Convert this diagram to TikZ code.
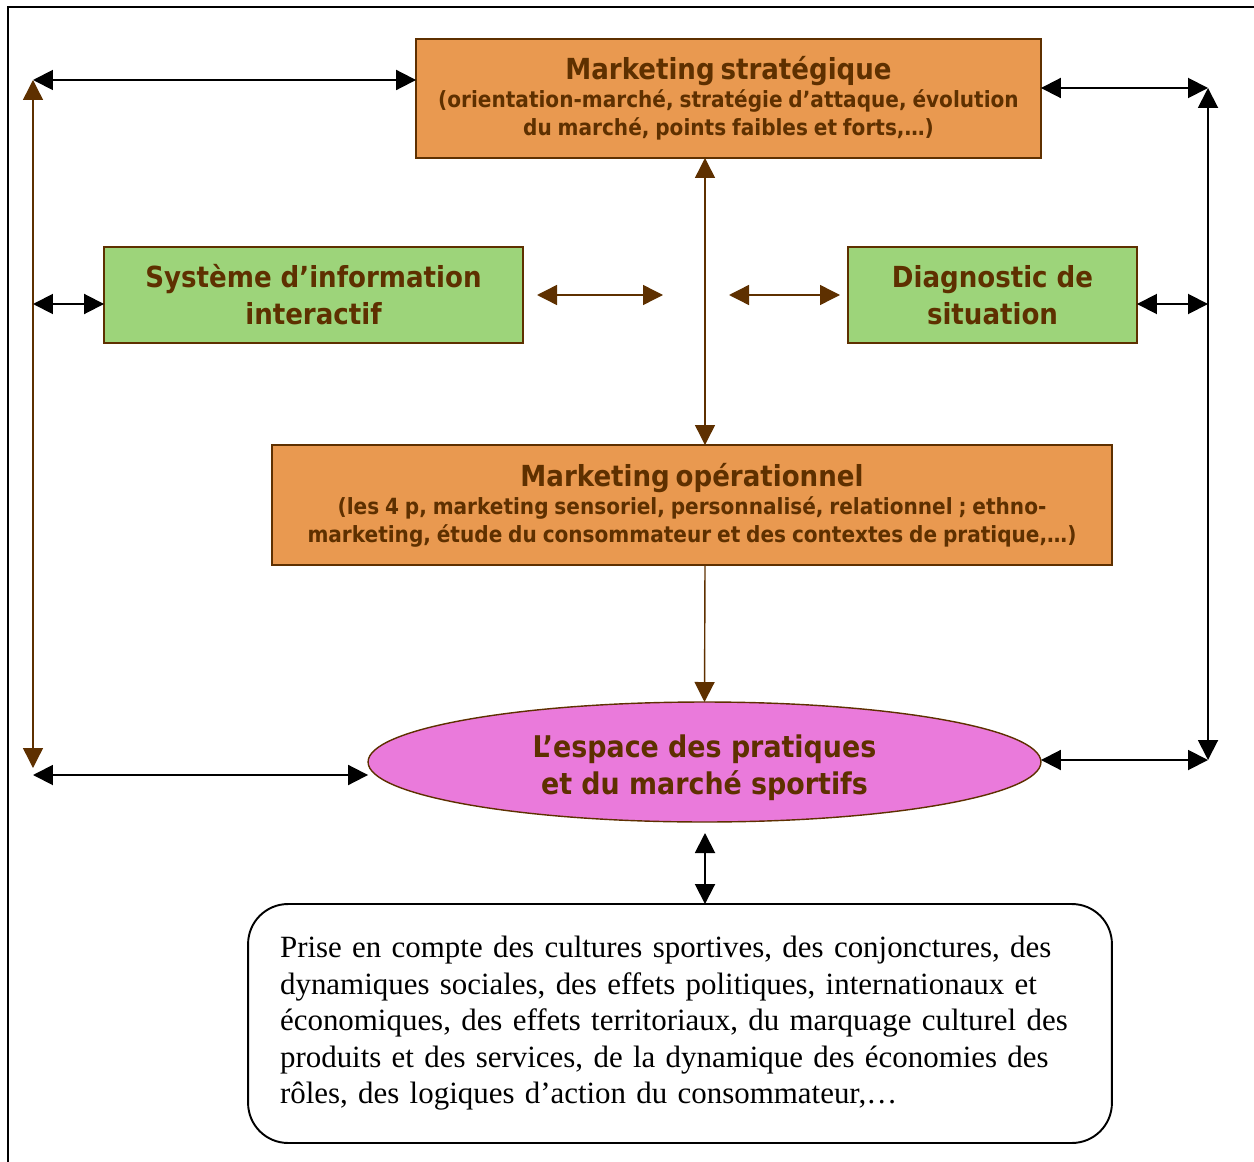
\documentclass[tikz,border=0pt]{standalone}
\usepackage{fontspec}
\setmainfont{Liberation Serif}
\newfontfamily\boxfont{DejaVu Sans Condensed}
\usetikzlibrary{arrows.meta,shapes.geometric}
\definecolor{boxbrown}{RGB}{94,48,0}
\definecolor{orangefill}{RGB}{233,153,80}
\definecolor{greenfill}{RGB}{157,212,122}
\definecolor{pinkfill}{RGB}{234,122,219}
\newcommand\titlef{\fontsize{16.5}{21}\selectfont}
\newcommand\subf{\fontsize{12.7}{16}\selectfont}
\tikzset{
  x=0.02cm, y=-0.02cm,
  every node/.style={inner sep=0pt, outer sep=0pt},
  orangebox/.style={draw=boxbrown, line width=0.8pt, fill=orangefill, text=boxbrown,
    font=\boxfont\bfseries, align=center},
  greenbox/.style={draw=boxbrown, line width=0.8pt, fill=greenfill, text=boxbrown,
    font=\boxfont\bfseries\titlef, align=center, minimum height=1.92cm},
  ovalbox/.style={ellipse, draw=boxbrown, line width=0.8pt, fill=pinkfill,
    minimum width=13.46cm, minimum height=2.4cm},
  ovaltext/.style={text=boxbrown, font=\boxfont\bfseries\fontsize{17}{21}\selectfont, align=center},
  roundbox/.style={draw, line width=1.1pt, rounded corners=0.8cm, align=left, inner xsep=0.64cm,
    font=\fontsize{17.6}{20.8}\selectfont, text width=16cm, minimum height=4.78cm},
  blackarr/.style={line width=1.1pt, {Triangle[length=0.4cm,width=0.4cm]}-{Triangle[length=0.4cm,width=0.4cm]}},
  brownarr/.style={draw=boxbrown, line width=0.8pt,
    {Triangle[length=0.4cm,width=0.4cm,fill=boxbrown]}-{Triangle[length=0.4cm,width=0.4cm,fill=boxbrown]}},
  brownto/.style={draw=boxbrown, line width=0.8pt, -{Triangle[length=0.4cm,width=0.4cm,fill=boxbrown]}}
}
\begin{document}
\begin{tikzpicture}
\useasboundingbox (0,0) rectangle (1254,1162);
% frame
\draw[line width=1.2pt] (8,1162) -- (8,7) -- (1254,7);

% boxes
\node[orangebox, minimum width=12.5cm, minimum height=2.38cm, text width=12.3cm] (strat) at (728.5,98.5)
  {{\titlef Marketing stratégique\par}{\subf (orientation-marché, stratégie d’attaque, évolution\\ du marché, points faibles et forts,…)\par}};
\node[greenbox, minimum width=8.38cm] (sia) at (313.5,295) {Système d’information\\ interactif};
\node[greenbox, minimum width=5.78cm] (diag) at (992.5,295) {Diagnostic de\\ situation};
\node[orangebox, minimum width=16.8cm, minimum height=2.4cm, text width=16.6cm] (oper) at (692,505)
  {{\titlef Marketing opérationnel\par}{\subf (les 4 p, marketing sensoriel, personnalisé, relationnel ; ethno-\\ marketing, étude du consommateur et des contextes de pratique,…)\par}};
\node[ovalbox] (espace) at (704.5,762) {};
\node[ovaltext] (espacetxt) at (704.5,768) {L’espace des pratiques\\ et du marché sportifs};
\node[roundbox] (contexte) at (680,1023.5)
  {Prise en compte des cultures sportives, des conjonctures, des\\
   dynamiques sociales, des effets politiques, internationaux et\\
   économiques, des effets territoriaux, du marquage culturel des\\
   produits et des services, de la dynamique des économies des\\
   rôles, des logiques d’action du consommateur,…};

% free ends
\coordinate (tl) at (33,80);
\coordinate (ml) at (33,304);
\coordinate (bl) at (33,768);
\coordinate (bl2) at (33,775);
\coordinate (tr) at (1208,88);
\coordinate (mr) at (1208,304);
\coordinate (br) at (1208,760);
\coordinate (sl1) at (537,295);
\coordinate (sl2) at (663,295);
\coordinate (sr1) at (729,295);
\coordinate (sr2) at (840,295);
\coordinate (mid) at (705,833);

% left side
\draw[blackarr] (tl) -- (tl -| strat.west);
\draw[brownarr] (tl) -- (bl);
\draw[blackarr] (ml) -- (ml -| sia.west);
\draw[blackarr] (bl2) -- (bl2 -| espace.west);

% right side
\draw[blackarr] (tr -| strat.east) -- (tr);
\draw[blackarr] (tr) -- (br);
\draw[blackarr] (mr -| diag.east) -- (mr);
\draw[blackarr] (br -| espace.east) -- (br);

% centre
\draw[brownarr] (strat.south -| mid) -- (oper.north -| mid);
\draw[brownarr] (sl1) -- (sl2);
\draw[brownarr] (sr1) -- (sr2);
\draw[brownto] (oper.south -| mid) -- (espace.north);
\draw[blackarr] (mid) -- (mid |- contexte.north);
\end{tikzpicture}
\end{document}
